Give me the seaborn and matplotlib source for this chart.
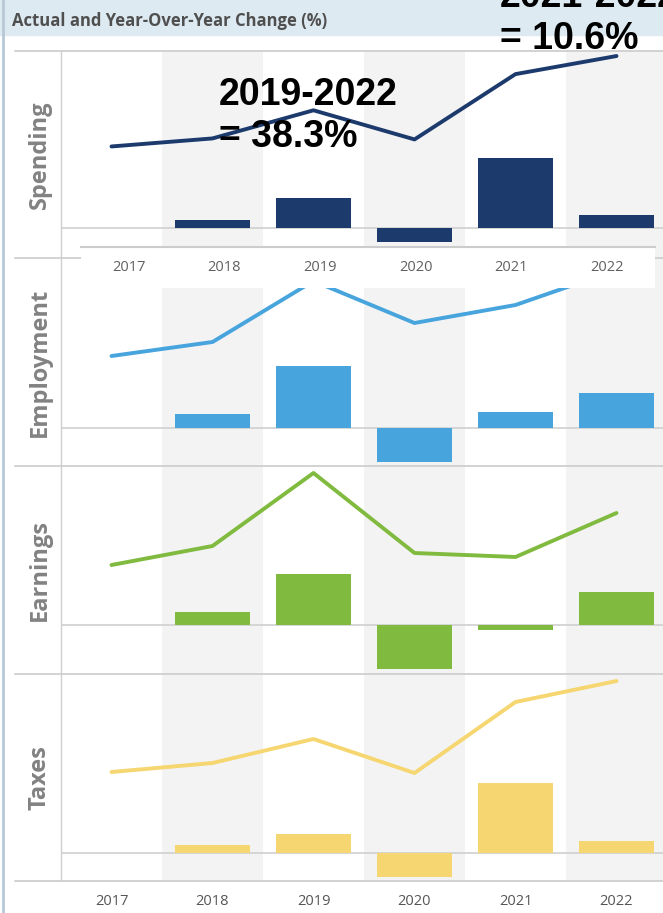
import numpy as np
import pandas as pd
import matplotlib
matplotlib.use("Agg")
import matplotlib.pyplot as plt
from matplotlib.lines import Line2D
from matplotlib.patches import Rectangle
import seaborn as sns

# Données (valeurs estimées)
years = ['2017', '2018', '2019', '2020', '2021', '2022']
panels = ['Spending', 'Employment', 'Earnings', 'Taxes']

spending_actual = [55.5, 59.5, 73.5, 59.0, 91.5, 100.5]
spending_yoy = [np.nan, 2.0, 7.5, -3.5, 17.5, 3.25]

employment_actual = [55.0, 62.0, 92.5, 71.5, 80.5, 98.0]
employment_yoy = [np.nan, 3.5, 15.5, -8.5, 4.0, 8.75]

earnings_actual = [54.5, 64.0, 100.5, 60.5, 58.5, 80.5]
earnings_yoy = [np.nan, 3.25, 12.75, -11.0, -1.25, 8.25]

taxes_actual = [54.5, 59.0, 71.0, 54.0, 89.5, 100.0]
taxes_yoy = [np.nan, 2.0, 4.75, -6.0, 17.5, 3.0]

actuals = [spending_actual, employment_actual, earnings_actual, taxes_actual]
yoys = [spending_yoy, employment_yoy, earnings_yoy, taxes_yoy]

title = "Actual and Year-Over-Year Change (%)"
note_1 = "2019-2022\n= 38.3%"
note_2 = "2021-2022\n= 10.6%"

# Mise en page (pixels de l'image de référence)
W, H = 663, 913
colors = ['#1c3a6c', '#47a4dd', '#80ba3e', '#f6d670']
tops = [51, 258, 466, 674]
bottoms = [258, 466, 674, 881]
bar_ylims = [(-7.5, 44), (-9.5, 42.5), (-12.25, 39.75), (-7.125, 44.625)]
line_ylims = [(0, 103), (0, 104), (0, 104), (0, 103.5)]
x_left = 61
xlim = (-0.5, -0.5 + (W - x_left) / 101)
grid_col = '#cfcfcf'
band_col = '#f3f3f4'


def fx(x):
    return x / W


def fy(y):
    return 1 - y / H


sns.set_theme(style='white')
plt.rcParams['font.family'] = ['Open Sans', 'DejaVu Sans']

fig = plt.figure(figsize=(W / 100, H / 100), dpi=100)

# bandeau d'en-tête
fig.patches.append(Rectangle((0, fy(35)), 1, 35 / H, transform=fig.transFigure,
                             color='#deeaf2', zorder=0))
fig.text(fx(12), fy(21), title, ha='left', va='center', fontsize=12,
         color='#4f4f4f', fontweight='bold')

for i, name in enumerate(panels):
    t, b = tops[i], bottoms[i]
    ax = fig.add_axes([fx(x_left), fy(b), 1 - fx(x_left), (b - t) / H])
    for k in range(1, len(years), 2):
        ax.axvspan(k - 0.5, k + 0.5, color=band_col, zorder=0, lw=0)
    ax.axhline(0, color=grid_col, lw=1.2, zorder=0.5)

    df = pd.DataFrame({'year': years, 'yoy': yoys[i], 'actual': actuals[i]})
    sns.barplot(data=df, x='year', y='yoy', order=years, color=colors[i],
                saturation=1, width=0.74, linewidth=0, ax=ax)
    ax.set_xlim(xlim)
    ax.set_ylim(bar_ylims[i])

    ax2 = ax.twinx()
    sns.lineplot(data=df, x='year', y='actual', color=colors[i], lw=2.8,
                 sort=False, ax=ax2)
    ax2.set_ylim(line_ylims[i])
    ax2.set_xlim(xlim)

    for a in (ax, ax2):
        for s in a.spines.values():
            s.set_visible(False)
        a.set_ylabel('')
        a.set_yticks([])
    ax.set_xlabel('')
    if i == len(panels) - 1:
        ax.set_xticks(range(len(years)), years)
        ax.tick_params(axis='x', length=0, pad=9, labelsize=10.5,
                       labelcolor='#555555')
    else:
        ax.set_xticks([])

    fig.text(fx(40), fy((t + b) / 2), name, rotation=90, ha='center',
             va='center', fontsize=17, color='#828282', fontweight='bold')

# lignes de séparation
for y in tops + [bottoms[-1]]:
    fig.add_artist(Line2D([fx(15), 1], [fy(y), fy(y)], color=grid_col, lw=1.3))
fig.add_artist(Line2D([fx(x_left), fx(x_left)], [fy(tops[0]), fy(bottoms[-1])],
                      color=grid_col, lw=1.0))
fig.add_artist(Line2D([fx(3), fx(3)], [0, 1], color='#b9c8d6', lw=2))

# axe collé par-dessus (capture)
bax = fig.add_axes([fx(81), fy(288), 574 / W, 41 / H], zorder=5)
bax.set_facecolor('white')
bax.set_xlim(-0.5, 5.5)
bax.set_xticks([])
bax.set_yticks([])
for k, s in bax.spines.items():
    s.set_visible(k == 'top')
bax.spines['top'].set_color('#cccccc')
bax.spines['top'].set_linewidth(1.5)
for k, yr in enumerate(years):
    bax.text(k, 0.5, yr, transform=bax.get_xaxis_transform(), ha='center',
             va='center', fontsize=10.5, color='#606060')

# annotations
fig.text(fx(219), fy(77), note_1, ha='left', va='top', fontsize=27,
         fontweight='bold', family='Liberation Sans', color='black',
         linespacing=1.22, zorder=10)
fig.text(fx(500), fy(-21), note_2, ha='left', va='top', fontsize=27,
         fontweight='bold', family='Liberation Sans', color='black',
         linespacing=1.22, zorder=10)

fig.savefig('out.png', dpi=100)
